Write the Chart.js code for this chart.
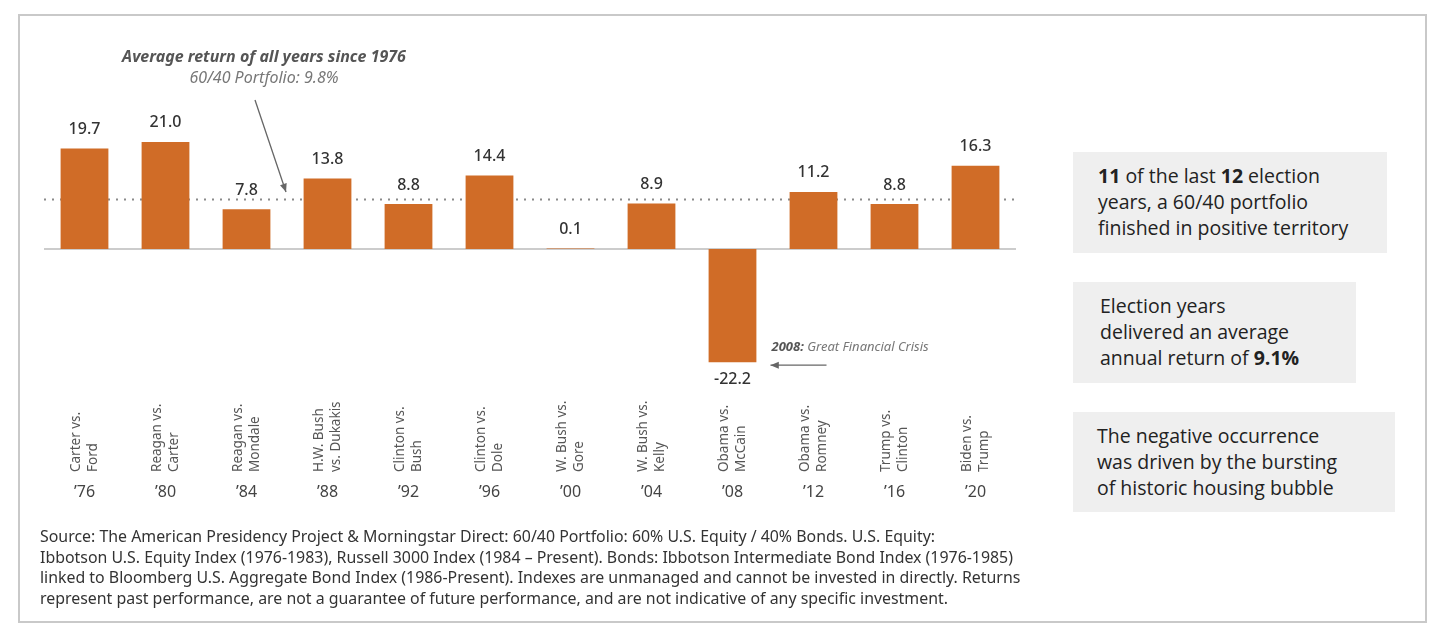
<!DOCTYPE html>
<html>
<head>
<meta charset="utf-8">
<script src="https://cdn.jsdelivr.net/npm/chart.js@4/dist/chart.umd.min.js"></script>
<style>
    html, body { margin: 0; padding: 0; background: #fff; }
    body { width: 1443px; height: 639px; position: relative; overflow: hidden; font-family: "Open Sans", "Noto Sans", sans-serif; }
    #frame { position: absolute; left: 18px; top: 14px; width: 1405px; height: 605px; border: 2px solid #c9c9c9; }
    #chart { position: absolute; left: 0; top: 0; }
    .box { position: absolute; background: #efefef; color: #222; font-size: 19.5px; line-height: 26px; box-sizing: border-box; }
    .box b { font-weight: 700; }
    #source { position: absolute; left: 40px; top: 526px; font-family: "Noto Sans", sans-serif; font-size: 15.9px; line-height: 20.5px; color: #333; white-space: nowrap; }
</style>
</head>
<body>
<div id="frame"></div>
<canvas id="chart" width="1443" height="639"></canvas>
<div class="box" style="left:1073px;top:152px;width:314px;height:101px;padding:11px 0 0 25px;"><b>11</b> of the last <b>12</b> election<br>years, a 60/40 portfolio<br>finished in positive territory</div>
<div class="box" style="left:1073px;top:282px;width:283px;height:101px;padding:11px 0 0 27px;">Election years<br>delivered an average<br>annual return of <b>9.1%</b></div>
<div class="box" style="left:1073px;top:412px;width:322px;height:100px;padding:11px 0 0 24px;">The negative occurrence<br>was driven by the bursting<br>of historic housing bubble</div>
<div id="source">Source: The American Presidency Project &amp; Morningstar Direct: 60/40 Portfolio: 60% U.S. Equity / 40% Bonds. U.S. Equity:<br>Ibbotson U.S. Equity Index (1976-1983), Russell 3000 Index (1984 – Present). Bonds: Ibbotson Intermediate Bond Index (1976-1985)<br>linked to Bloomberg U.S. Aggregate Bond Index (1986-Present). Indexes are unmanaged and cannot be invested in directly. Returns<br>represent past performance, are not a guarantee of future performance, and are not indicative of any specific investment.</div>
<script>
const years = ['\u201976', '\u201980', '\u201984', '\u201988', '\u201992', '\u201996', '\u201900', '\u201904', '\u201908', '\u201912', '\u201916', '\u201920'];
const matchups = [
    ['Carter vs.', 'Ford'], ['Reagan vs.', 'Carter'], ['Reagan vs.', 'Mondale'], ['H.W. Bush', 'vs. Dukakis'],
    ['Clinton vs.', 'Bush'], ['Clinton vs.', 'Dole'], ['W. Bush vs.', 'Gore'], ['W. Bush vs.', 'Kelly'],
    ['Obama vs.', 'McCain'], ['Obama vs.', 'Romney'], ['Trump vs.', 'Clinton'], ['Biden vs.', 'Trump']
];
const returns = [19.7, 21.0, 7.8, 13.8, 8.8, 14.4, 0.1, 8.9, -22.2, 11.2, 8.8, 16.3];
const averageReturn = 9.8;

const labelFont = '"Noto Sans", sans-serif';

function arrow(ctx, x1, y1, x2, y2) {
    const angle = Math.atan2(y2 - y1, x2 - x1);
    ctx.beginPath();
    ctx.moveTo(x1, y1);
    ctx.lineTo(x2, y2);
    ctx.stroke();
    ctx.beginPath();
    ctx.moveTo(x2, y2);
    ctx.lineTo(x2 - 9 * Math.cos(angle - 0.4), y2 - 9 * Math.sin(angle - 0.4));
    ctx.lineTo(x2 - 9 * Math.cos(angle + 0.4), y2 - 9 * Math.sin(angle + 0.4));
    ctx.closePath();
    ctx.fill();
}

const decorations = {
    id: 'decorations',
    beforeDatasetsDraw(chart) {
        const { ctx, chartArea, scales: { y } } = chart;
        ctx.save();
        const zero = y.getPixelForValue(0);
        ctx.strokeStyle = '#cccccc';
        ctx.lineWidth = 2;
        ctx.beginPath();
        ctx.moveTo(chartArea.left, zero);
        ctx.lineTo(chartArea.right, zero);
        ctx.stroke();
        const avg = Math.round(y.getPixelForValue(averageReturn)) + 0.5;
        ctx.strokeStyle = '#8a8a8a';
        ctx.setLineDash([2, 6]);
        ctx.beginPath();
        ctx.moveTo(chartArea.left, avg);
        ctx.lineTo(chartArea.right, avg);
        ctx.stroke();
        ctx.restore();
    },
    afterDatasetsDraw(chart) {
        const { ctx, scales: { x, y } } = chart;
        const meta = chart.getDatasetMeta(0);
        ctx.save();
        ctx.fillStyle = '#333';
        ctx.textAlign = 'center';
        ctx.textBaseline = 'middle';
        ctx.font = '500 16px ' + labelFont;
        meta.data.forEach((bar, i) => {
            const v = returns[i];
            const yy = v >= 0 ? bar.y - 19 : bar.y + 17;
            ctx.fillText(v.toFixed(1), bar.x, yy);
        });

        years.forEach((yr, i) => {
            const cx = x.getPixelForValue(i);
            ctx.fillStyle = '#444';
            ctx.font = '16px ' + labelFont;
            ctx.textAlign = 'center';
            ctx.fillText(yr, cx, 492);
            ctx.save();
            ctx.translate(cx, 472);
            ctx.rotate(-Math.PI / 2);
            ctx.textAlign = 'left';
            ctx.fillStyle = '#555';
            ctx.font = '13.5px ' + labelFont;
            ctx.fillText(matchups[i][0], 0, -8);
            ctx.fillText(matchups[i][1], 0, 9);
            ctx.restore();
        });

        // average annotation
        ctx.fillStyle = '#555';
        ctx.textAlign = 'center';
        ctx.font = 'italic 700 16px ' + labelFont;
        ctx.fillText('Average return of all years since 1976', 264, 57);
        ctx.fillStyle = '#777';
        ctx.font = 'italic 16px ' + labelFont;
        ctx.fillText('60/40 Portfolio: 9.8%', 264, 78);
        ctx.strokeStyle = '#666';
        ctx.fillStyle = '#666';
        ctx.lineWidth = 1.3;
        arrow(ctx, 255, 100, 286, y.getPixelForValue(averageReturn) - 7);

        // 2008 annotation
        const crisisX = x.getPixelForValue(8);
        const crisisY = y.getPixelForValue(returns[8]);
        ctx.textAlign = 'left';
        ctx.fillStyle = '#555';
        ctx.font = 'italic 700 13px ' + labelFont;
        ctx.fillText('2008:', crisisX + 39, crisisY - 15);
        const w = ctx.measureText('2008: ').width;
        ctx.fillStyle = '#777';
        ctx.font = 'italic 13px ' + labelFont;
        ctx.fillText('Great Financial Crisis', crisisX + 39 + w, crisisY - 15);
        ctx.strokeStyle = '#666';
        ctx.fillStyle = '#666';
        arrow(ctx, crisisX + 94, crisisY + 3, crisisX + 38, crisisY + 3);
        ctx.restore();
    }
};

new Chart(document.getElementById('chart'), {
    type: 'bar',
    data: {
        labels: years,
        datasets: [{ data: returns, backgroundColor: '#d06c27', borderWidth: 0, barPercentage: 0.59, categoryPercentage: 1 }]
    },
    options: {
        responsive: false,
        animation: false,
        layout: { padding: { left: 44, right: 427, top: 96, bottom: 237 } },
        scales: {
            x: { display: false },
            y: { display: false, min: -30, max: 30 }
        },
        plugins: { legend: { display: false }, tooltip: { enabled: false } }
    },
    plugins: [decorations]
});
</script>
</body>
</html>
